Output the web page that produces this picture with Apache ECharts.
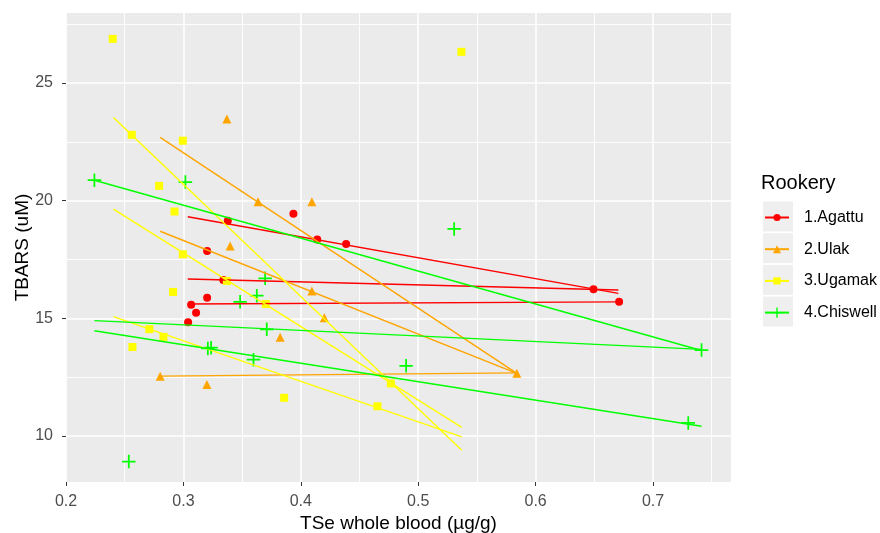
<!DOCTYPE html>
<html>
<head>
<meta charset="utf-8">
<script src="https://cdn.jsdelivr.net/npm/echarts@6/dist/echarts.min.js"></script>
<style>
html,body{margin:0;padding:0;background:#fff;}
#chart{width:880px;height:533px;}
</style>
</head>
<body>
<div id="chart"></div>
<script>
// ---- data ----
const groupNames = ['1.Agattu', '2.Ulak', '3.Ugamak', '4.Chiswell'];

const agattuX = [0.3378, 0.3937, 0.414, 0.4386, 0.3202, 0.334, 0.3202, 0.3066, 0.3108, 0.304, 0.6493, 0.6711];
const agattuY = [19.15, 19.45, 18.35, 18.16, 17.86, 16.63, 15.87, 15.58, 15.24, 14.83, 16.23, 15.70];

const ulakX = [0.337, 0.3636, 0.4094, 0.3398, 0.4094, 0.42, 0.3824, 0.2802, 0.320, 0.584];
const ulakY = [23.47, 19.96, 19.96, 18.07, 16.16, 15.02, 14.19, 12.54, 12.19, 12.66];

const ugamakX = [0.2398, 0.5368, 0.256, 0.2995, 0.2793, 0.2924, 0.2995, 0.337, 0.2912, 0.3702, 0.271, 0.283, 0.2566, 0.3858, 0.4767, 0.4653];
const ugamakY = [26.88, 26.33, 22.80, 22.55, 20.63, 19.54, 17.72, 16.59, 16.12, 15.61, 14.54, 14.21, 13.78, 11.62, 12.23, 11.26];

const chiswellX = [0.2242, 0.3017, 0.5306, 0.3696, 0.3625, 0.3483, 0.371, 0.3208, 0.3236, 0.3597, 0.4897, 0.2535, 0.7413, 0.730];
const chiswellY = [20.87, 20.79, 18.80, 16.70, 15.96, 15.70, 14.53, 13.72, 13.75, 13.24, 12.98, 8.91, 13.65, 10.55];

// fitted lines: x range per group, and [yStart, yEnd] per line
const agattuFitX = [0.3037, 0.6705];
const agattuFitY = [[19.32, 16.06], [16.67, 16.20], [15.61, 15.70]];
const ulakFitX = [0.2802, 0.584];
const ulakFitY = [[22.69, 12.66], [18.70, 12.66], [12.54, 12.68]];
const ugamakFitX = [0.2404, 0.5371];
const ugamakFitY = [[23.54, 9.39], [19.64, 10.36], [15.07, 9.96]];
const chiswellFitX = [0.2242, 0.7413];
const chiswellFitY = [[20.87, 13.63], [14.90, 13.68], [14.47, 10.41]];

const xTicks = [0.2, 0.3, 0.4, 0.5, 0.6, 0.7];
const yTicks = [10, 15, 20, 25];

// ---- styling ----
const FONT = '"Liberation Sans", Arial, sans-serif';
const crossPath = 'path://M-0.13,-1L0.13,-1L0.13,-0.13L1,-0.13L1,0.13L0.13,0.13L0.13,1L-0.13,1L-0.13,0.13L-1,0.13L-1,-0.13L-0.13,-0.13Z';
const groups = [
  {name: groupNames[0], x: agattuX, y: agattuY, fx: agattuFitX, fy: agattuFitY, color: '#FF0000', symbol: 'circle', size: 8, legendH: 9},
  {name: groupNames[1], x: ulakX, y: ulakY, fx: ulakFitX, fy: ulakFitY, color: '#FFA500', symbol: 'triangle', size: 9, legendH: 10},
  {name: groupNames[2], x: ugamakX, y: ugamakY, fx: ugamakFitX, fy: ugamakFitY, color: '#FFFF00', symbol: 'rect', size: 8, legendH: 9},
  {name: groupNames[3], x: chiswellX, y: chiswellY, fx: chiswellFitX, fy: chiswellFitY, color: '#00FF00', symbol: crossPath, size: 13.5, legendH: 13}
];

const series = [];
// line series first so legend icons show line + symbol
groups.forEach(g => {
  g.fy.forEach(pair => {
    series.push({
      name: g.name, type: 'line', z: 3,
      data: [[g.fx[0], pair[0]], [g.fx[1], pair[1]]],
      showSymbol: false, symbol: g.symbol,
      itemStyle: {color: g.color},
      lineStyle: {color: g.color, width: 1.4},
      silent: true, emphasis: {disabled: true}
    });
  });
});
groups.forEach(g => {
  series.push({
    name: g.name, type: 'scatter', z: 2,
    data: g.x.map((v, i) => [v, g.y[i]]),
    symbol: g.symbol, symbolSize: g.size,
    itemStyle: {color: g.color, opacity: 1},
    silent: true, emphasis: {disabled: true}
  });
});

const rowCenter = i => 216.5 + 31.7 * i;
const legends = groups.map((g, i) => ({
  data: [g.name], left: 764, top: rowCenter(i) - 7, orient: 'vertical',
  itemWidth: 24, itemHeight: g.legendH, padding: 0, selectedMode: false,
  textStyle: {fontSize: 16, color: '#000', fontFamily: FONT, padding: [0, 0, 0, 10]}
}));
const keyRects = groups.map((g, i) => ({
  type: 'rect', left: 763, top: rowCenter(i) - 15, z: 0,
  shape: {width: 30, height: 30}, style: {fill: '#EFEFEF'}
}));

const chart = echarts.init(document.getElementById('chart'), null, {renderer: 'canvas'});
chart.setOption({
  animation: false,
  backgroundColor: '#FFFFFF',
  title: {text: 'Rookery', left: 761, top: 173, padding: 0,
    textStyle: {fontSize: 20, fontWeight: 'normal', color: '#000', fontFamily: FONT}},
  legend: legends,
  graphic: keyRects,
  grid: {left: 66, top: 13, width: 665, height: 469, show: true, backgroundColor: '#EBEBEB', borderWidth: 0,
    containLabel: false, outerBoundsMode: 'none'},
  xAxis: {
    type: 'value', min: 0.2, max: 0.7664, minInterval: 0.1, maxInterval: 0.1, splitNumber: 5,
    name: 'TSe whole blood (µg/g)', nameLocation: 'middle', nameGap: 32, nameMoveOverlap: false,
    nameTextStyle: {fontSize: 19, color: '#000', fontFamily: FONT},
    axisLine: {show: false},
    axisTick: {show: true, length: 4, customValues: xTicks, lineStyle: {color: '#333333', width: 1}},
    axisLabel: {customValues: xTicks, margin: 12, fontSize: 16, color: '#4D4D4D', fontFamily: FONT,
      formatter: v => v.toFixed(1)},
    splitLine: {show: true, lineStyle: {color: '#FFFFFF', width: 1.6}},
    minorTick: {show: false, splitNumber: 2},
    minorSplitLine: {show: true, lineStyle: {color: '#FFFFFF', width: 0.9}}
  },
  yAxis: {
    type: 'value', min: 8.04, max: 27.98, minInterval: 5, maxInterval: 5, splitNumber: 4,
    name: 'TBARS (uM)', nameLocation: 'middle', nameGap: 34, nameRotate: 90, nameMoveOverlap: false,
    nameTextStyle: {fontSize: 19, color: '#000', fontFamily: FONT},
    axisLine: {show: false},
    axisTick: {show: true, length: 4, customValues: yTicks, lineStyle: {color: '#333333', width: 1}},
    axisLabel: {customValues: yTicks, margin: 13, fontSize: 16, color: '#4D4D4D', fontFamily: FONT},
    splitLine: {show: true, lineStyle: {color: '#FFFFFF', width: 1.6}},
    minorTick: {show: false, splitNumber: 2},
    minorSplitLine: {show: true, lineStyle: {color: '#FFFFFF', width: 0.9}}
  },
  series: series
});
</script>
</body>
</html>
